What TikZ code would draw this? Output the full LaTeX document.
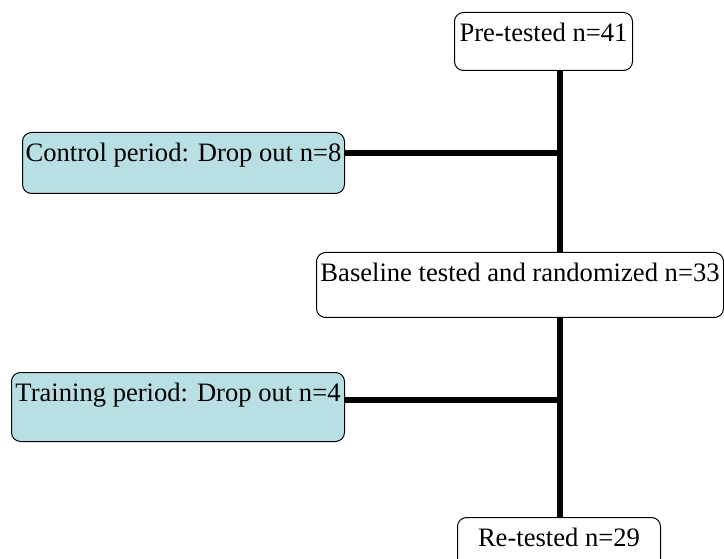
\documentclass[tikz,border=0pt]{standalone}
\usepackage{fontspec}
\setmainfont{Liberation Serif}
\definecolor{dropfill}{RGB}{184,223,227}
\begin{document}
\begin{tikzpicture}[x=1pt,y=-1pt,
  stage/.style={draw=black, line width=1pt, rounded corners=9pt, fill=white,
    inner sep=0pt, anchor=north west, align=center,
    font=\fontsize{26.6}{30}\selectfont, text height=29pt},
  dropbox/.style={stage, fill=dropfill},
  link/.style={line width=6pt}]
  \useasboundingbox (0,0) rectangle (724,559);

  % stage boxes (text sits near the top edge)
  \node[stage, minimum width=178pt, text depth=29pt] (pre)   at (454,12)  {Pre-tested n=41};
  \node[dropbox, minimum width=322pt, text depth=32pt] (ctrl) at (22,132)  {Control period: Drop out n=8};
  \node[stage, minimum width=407pt, text depth=36pt] (base)  at (316,252) {Baseline tested and randomized n=33};
  \node[dropbox, minimum width=333pt, text depth=40pt] (train) at (11,372) {Training period: Drop out n=4};
  \node[stage, minimum width=203pt, text depth=40pt] (re)    at (457,517) {Re-tested n=29};

  % junctions on the main trunk
  \coordinate (j1) at (560,153);
  \coordinate (j2) at (560,400);

  % trunk and side branches
  \draw[link] (pre.south -| j1) -- (base.north -| j1);
  \draw[link] (ctrl.east |- j1) -- (j1);
  \draw[link] (base.south -| j2) -- (re.north -| j2);
  \draw[link] (train.east |- j2) -- (j2);
\end{tikzpicture}
\end{document}
